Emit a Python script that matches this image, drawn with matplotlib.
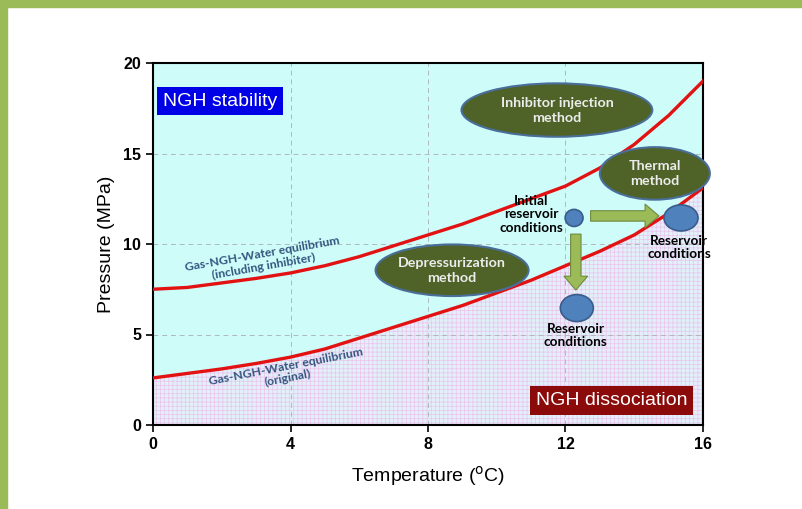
"""
Natural gas hydrate (NGH) phase diagram with production-method annotations.
Saves out.png (803x509 px).
"""
import matplotlib.pyplot as plt
from matplotlib.patches import Ellipse, Rectangle

plt.rcParams['font.family'] = ['Liberation Sans', 'DejaVu Sans']
plt.rcParams['hatch.linewidth'] = 0.5
plt.rcParams['hatch.color'] = '#ebc3eb'

# --- data ---
temp_c = [0, 1, 2, 3, 4, 5, 6, 7, 8, 9, 10, 11, 12, 13, 14, 15, 16]
p_inhibitor = [7.5, 7.6, 7.85, 8.1, 8.4, 8.8, 9.3, 9.9, 10.5, 11.1, 11.8,
               12.5, 13.2, 14.2, 15.5, 17.1, 19.0]
p_original = [2.6, 2.85, 3.1, 3.4, 3.75, 4.2, 4.8, 5.4, 6.0, 6.6, 7.3,
              8.0, 8.8, 9.6, 10.5, 11.7, 13.1]

x_ticks = [0, 4, 8, 12, 16]
y_ticks = [0, 5, 10, 15, 20]

# method bubbles: (label, centre T, centre P, width, height)
methods = [
    ('Inhibitor injection\nmethod', 11.75, 17.4, 5.55, 2.95),
    ('Thermal\nmethod', 14.6, 13.9, 3.2, 2.9),
    ('Depressurization\nmethod', 8.7, 8.55, 4.45, 2.85),
]
# reservoir states: (centre T, centre P, width, height)
states = [(12.25, 11.44, 0.52, 0.94), (15.36, 11.44, 0.99, 1.44),
          (12.33, 6.46, 0.96, 1.49)]

OLIVE = '#4f6228'
BUBBLE_EDGE = '#4a6e9a'
STATE_BLUE = '#4f81bd'
ARROW_GREEN = '#9bbb59'
CURVE_RED = '#e31212'
LABEL_BLUE = '#34557f'

fig = plt.figure(figsize=(8.03, 5.09), dpi=100)

# green slide border (left and top)
fig.patches.append(Rectangle((0, 0), 7 / 803, 1, transform=fig.transFigure,
                             color=ARROW_GREEN, zorder=0))
fig.patches.append(Rectangle((0, 1 - 7 / 509), 1, 7 / 509, transform=fig.transFigure,
                             color=ARROW_GREEN, zorder=0))

ax = fig.add_axes([153 / 803, 84 / 509, 550 / 803, 362 / 509])
ax.set_xlim(0, 16)
ax.set_ylim(0, 20)

# regions
ax.fill_between(temp_c, p_original, 20, color='#cdfcf9', lw=0, zorder=0)
ax.fill_between(temp_c, 0, p_original, facecolor='#e2f0fa', hatch='++++',
                edgecolor='#ebc3eb', lw=0, zorder=0)

ax.grid(True, color='#b0b8bc', linestyle=(0, (5, 4)), linewidth=0.7)
ax.set_axisbelow(True)

# equilibrium curves
ax.plot(temp_c, p_inhibitor, color=CURVE_RED, lw=2.4, zorder=3)
ax.plot(temp_c, p_original, color=CURVE_RED, lw=2.4, zorder=3)

ax.text(3.2, 9.1, 'Gas-NGH-Water equilibrium\n(including inhibiter)',
        rotation=10, ha='center', va='center', fontsize=8.8, color=LABEL_BLUE,
        family=['Lato', 'DejaVu Sans'], fontweight='bold', linespacing=1.1, zorder=4)
ax.text(3.9, 2.9, 'Gas-NGH-Water equilibrium\n(original)',
        rotation=11, ha='center', va='center', fontsize=8.8, color=LABEL_BLUE,
        family=['Lato', 'DejaVu Sans'], fontweight='bold', linespacing=1.1, zorder=4)

# method bubbles
for label, cx, cy, w, h in methods:
    ax.add_patch(Ellipse((cx, cy), w, h, facecolor=OLIVE, edgecolor=BUBBLE_EDGE,
                         lw=1.5, zorder=5, clip_on=False))
    ax.text(cx, cy, label, ha='center', va='center', fontsize=10.3, color='#ececec',
            family=['Lato', 'DejaVu Sans'], fontweight='bold', linespacing=1.3, zorder=6)

# reservoir states
for cx, cy, w, h in states:
    ax.add_patch(Ellipse((cx, cy), w, h, facecolor=STATE_BLUE, edgecolor='#385d8a',
                         lw=1.2, zorder=7))

arrow_style = 'simple,head_length=1.0,head_width=1.7,tail_width=0.75'
ax.annotate('', xy=(14.8, 11.55), xytext=(12.65, 11.55),
            arrowprops=dict(arrowstyle=arrow_style, mutation_scale=10,
                            fc=ARROW_GREEN, ec='#71893f', lw=0.8), zorder=6)
ax.annotate('', xy=(12.3, 7.3), xytext=(12.3, 10.7),
            arrowprops=dict(arrowstyle=arrow_style, mutation_scale=10,
                            fc=ARROW_GREEN, ec='#71893f', lw=0.8), zorder=6)

state_font = dict(ha='center', va='center', fontsize=9.8, color='black',
                  family=['Lato', 'DejaVu Sans'], fontweight='bold',
                  linespacing=1.15, zorder=8)
ax.text(11.0, 11.65, 'Initial\nreservoir\nconditions', **state_font)
ax.text(15.3, 9.8, 'Reservoir\nconditions', **state_font)
ax.text(12.3, 4.95, 'Reservoir\nconditions', **state_font)

# region labels
ax.text(0.3, 17.9, 'NGH stability', fontsize=14, color='white', va='center',
        bbox=dict(boxstyle='square,pad=0.3', fc='#0000e6', ec='none'), zorder=8)
ax.text(15.55, 1.35, 'NGH dissociation', fontsize=14, color='white', va='center',
        ha='right', bbox=dict(boxstyle='square,pad=0.3', fc='#8b0a0a', ec='none'),
        zorder=8)

ax.set_xticks(x_ticks)
ax.set_yticks(y_ticks)
ax.tick_params(direction='out', length=5, width=1.2, labelsize=11.5)
for lbl in ax.get_xticklabels() + ax.get_yticklabels():
    lbl.set_fontweight('bold')
for sp in ax.spines.values():
    sp.set_linewidth(1.5)

ax.set_xlabel('Temperature ($^{\\rm o}$C)', fontsize=14, labelpad=9)
ax.set_ylabel('Pressure (MPa)', fontsize=14, labelpad=6)

fig.savefig('out.png', dpi=100)
